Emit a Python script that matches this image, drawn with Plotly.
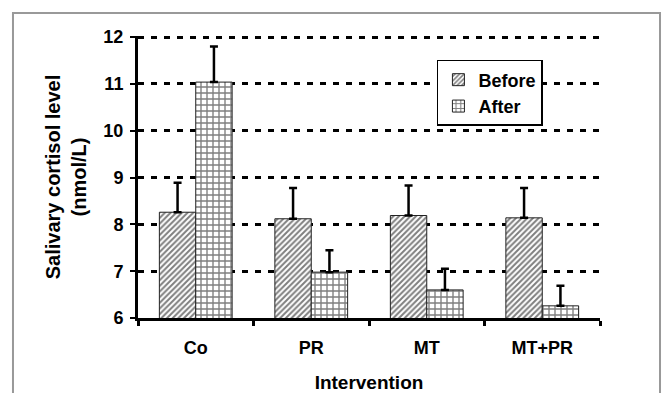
import plotly.graph_objects as go

categories = ["Co", "PR", "MT", "MT+PR"]
before = [8.26, 8.12, 8.19, 8.14]
before_err = [0.63, 0.66, 0.64, 0.64]
after = [11.04, 6.98, 6.60, 6.26]
after_err = [0.76, 0.47, 0.45, 0.43]
y_ticks = [6, 7, 8, 9, 10, 11, 12]

FONT = "Liberation Sans"

fig = go.Figure()
fig.add_trace(go.Bar(
    name="<b>Before</b>", x=categories, y=before,
    error_y=dict(type="data", array=before_err, symmetric=False, arrayminus=[0] * len(before),
                 color="black", thickness=2.5, width=4),
    marker=dict(color="white", line=dict(color="#222222", width=1),
                pattern=dict(shape="/", size=4, solidity=0.5, fgcolor="black", bgcolor="white")),
))
fig.add_trace(go.Bar(
    name="<b>After</b>", x=categories, y=after,
    error_y=dict(type="data", array=after_err, symmetric=False, arrayminus=[0] * len(after),
                 color="black", thickness=2.5, width=4),
    marker=dict(color="white", line=dict(color="#222222", width=1),
                pattern=dict(shape="+", size=6, solidity=0.4, fgcolor="black", bgcolor="white")),
))

fig.update_layout(
    width=663, height=393,
    margin=dict(l=138, r=63, t=36, b=75),
    paper_bgcolor="white", plot_bgcolor="white",
    barmode="group", bargap=0.37, bargroupgap=0,
    font=dict(family=FONT, size=18, color="black"),
    showlegend=True,
    legend=dict(x=0.647, y=0.915, xanchor="left", yanchor="top",
                bgcolor="white", bordercolor="black", borderwidth=1.5,
                font=dict(family=FONT, size=18, color="black"),
                itemwidth=30, tracegroupgap=0),
    xaxis=dict(
        automargin=False,
        showline=True, linecolor="black", linewidth=3,
        ticks="outside", tickson="boundaries", ticklen=5, tickwidth=3, tickcolor="black",
        tickfont=dict(family=FONT, size=18, color="black"),
        tickvals=categories, ticktext=[f"<b>{c}</b>" for c in categories],
        ticklabelstandoff=11,
        title=dict(text="<b>Intervention</b>", font=dict(family=FONT, size=19), standoff=22),
        showgrid=False,
    ),
    yaxis=dict(
        automargin=False,
        range=[6, 12.025], tickvals=y_ticks, ticktext=[f"<b>{v}</b>" for v in y_ticks],
        showline=True, linecolor="black", linewidth=3,
        ticks="outside", ticklen=5, tickwidth=2, tickcolor="black",
        tickfont=dict(family=FONT, size=18, color="black"),
        ticklabelstandoff=3,
        showgrid=True, gridcolor="black", gridwidth=3, griddash="6px,7px",
        zeroline=False,
        title=dict(text="<b>Salivary cortisol level<br>(nmol/L)</b>",
                   font=dict(family=FONT, size=20), standoff=12),
    ),
    shapes=[dict(type="rect", xref="paper", yref="paper",
                 x0=-0.2706, x1=1.1299, y0=-0.5, y1=1.082,
                 line=dict(color="#999999", width=2), layer="above")],
)

fig.write_html("out.html", config={"displayModeBar": False},
               post_script="document.body.style.margin='0';")
